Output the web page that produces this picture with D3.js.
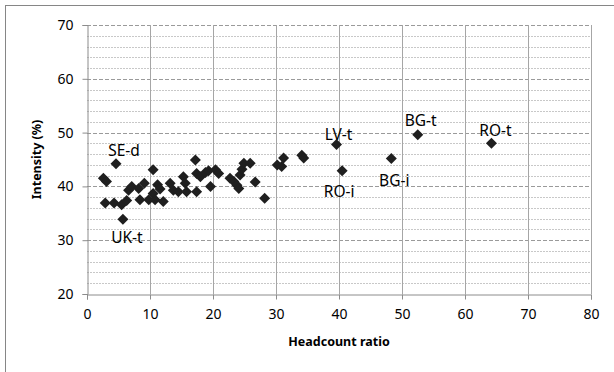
<!DOCTYPE html>
<html>
<head>
<meta charset="utf-8">
<script src="https://cdn.jsdelivr.net/npm/d3@7"></script>
<style>
  html, body { margin: 0; padding: 0; background: #fff; }
  svg { display: block; }
  text { font-family: "Noto Sans", "Open Sans", sans-serif; fill: #000; }
</style>
</head>
<body>
<script>
// Headcount ratio (x) against intensity of poverty (y), one point per region
const headcount = [2.6, 3.1, 2.9, 4.3, 4.6, 5.5, 5.7, 6.3, 6.6, 7.1, 8.2, 8.4, 9.1, 9.8,
  10.5, 10.5, 10.8, 11.2, 11.6, 12.1, 13.2, 13.7, 14.5, 15.3, 15.6, 15.8, 17.2, 17.4, 17.4,
  18.0, 18.8, 19.3, 19.6, 20.4, 20.9, 22.7, 23.3, 23.8, 24.1, 24.3, 24.6, 24.9, 25.9, 26.7,
  28.2, 30.2, 30.9, 31.2, 34.1, 34.4, 39.6, 40.5, 48.3, 52.5, 64.2];
const intensity = [41.5, 40.9, 36.9, 36.9, 44.2, 36.6, 33.9, 37.4, 39.3, 40.0, 39.6, 37.5, 40.6, 37.5,
  43.1, 38.7, 37.5, 40.3, 39.5, 37.2, 40.6, 39.3, 39.0, 41.8, 40.6, 39.0, 44.9, 42.4, 39.0,
  41.8, 42.6, 42.9, 40.0, 43.1, 42.4, 41.5, 40.9, 40.2, 39.6, 42.1, 43.2, 44.3, 44.3, 40.8,
  37.8, 44.0, 43.7, 45.3, 45.8, 45.3, 47.8, 42.9, 45.2, 49.6, 48.0];

// Named regions (index into the arrays above)
const labelNames = ["SE-d", "UK-t", "LV-t", "RO-i", "BG-i", "BG-t", "RO-t"];
const labelIndex = [4, 6, 50, 51, 52, 53, 54];

const xTicks = [0, 10, 20, 30, 40, 50, 60, 70, 80];
const yTicks = [20, 30, 40, 50, 60, 70];
const yMinor = [22, 24, 26, 28, 32, 34, 36, 38, 42, 44, 46, 48, 52, 54, 56, 58, 62, 64, 66, 68];

const W = 614, H = 372;
const margin = { left: 87, right: 23, top: 25, bottom: 78 };

const svg = d3.select("body").append("svg").attr("width", W).attr("height", H);

// chart frame
svg.append("rect")
  .attr("x", 5.5).attr("y", 5.5).attr("width", W + 10).attr("height", H + 10)
  .attr("fill", "#fff").attr("stroke", "#868686").attr("stroke-width", 1);

const x = d3.scaleLinear().domain([0, 80]).range([margin.left, W - margin.right]);
const y = d3.scaleLinear().domain([20, 70]).range([H - margin.bottom, margin.top]);

const g = svg.append("g");

// minor horizontal gridlines
g.selectAll("line.minor").data(yMinor).join("line")
  .attr("class", "minor")
  .attr("x1", x(0)).attr("x2", x(80))
  .attr("y1", d => Math.round(y(d)) + 0.5).attr("y2", d => Math.round(y(d)) + 0.5)
  .attr("stroke", "#c8c8c8").attr("stroke-width", 1).attr("stroke-dasharray", "2,1");

// major horizontal gridlines
g.selectAll("line.major").data(yTicks.filter(d => d > 20)).join("line")
  .attr("class", "major")
  .attr("x1", x(0)).attr("x2", x(80))
  .attr("y1", d => Math.round(y(d)) + 0.5).attr("y2", d => Math.round(y(d)) + 0.5)
  .attr("stroke", "#9a9a9a").attr("stroke-width", 1).attr("stroke-dasharray", "4,2");

// vertical gridlines
g.selectAll("line.vgrid").data(xTicks.filter(d => d > 0)).join("line")
  .attr("class", "vgrid")
  .attr("x1", d => Math.round(x(d)) + 0.5).attr("x2", d => Math.round(x(d)) + 0.5)
  .attr("y1", y(70)).attr("y2", y(20))
  .attr("stroke", "#a6a6a6").attr("stroke-width", 1);

// axes
const xAxis = d3.axisBottom(x).tickValues(xTicks).tickSize(5).tickPadding(10);
const yAxis = d3.axisLeft(y).tickValues(yTicks).tickSize(5).tickPadding(9);

const gx = svg.append("g")
  .attr("transform", `translate(0,${Math.round(y(20)) + 0.5})`)
  .call(xAxis);
const gy = svg.append("g")
  .attr("transform", `translate(${Math.round(x(0)) + 0.5},0)`)
  .call(yAxis);

[gx, gy].forEach(a => {
  a.select(".domain").attr("stroke", "#8c8c8c");
  a.selectAll(".tick line").attr("stroke", "#8c8c8c");
  a.selectAll(".tick text")
    .attr("font-family", "'Noto Sans', sans-serif")
    .attr("font-size", 14).attr("fill", "#1a1a1a");
});

// axis titles
svg.append("text")
  .attr("x", (x(0) + x(80)) / 2).attr("y", 346)
  .attr("text-anchor", "middle")
  .attr("font-size", 12.5).attr("font-weight", "bold")
  .text("Headcount ratio");

svg.append("text")
  .attr("transform", `translate(41,${(y(20) + y(70)) / 2}) rotate(-90)`)
  .attr("text-anchor", "middle")
  .attr("font-size", 12.5).attr("font-weight", "bold")
  .text("Intensity (%)");

// diamond markers
const r = 5.5;
const points = headcount.map((h, i) => ({ h, v: intensity[i] }));
svg.append("g").selectAll("path").data(points).join("path")
  .attr("d", d => {
    const cx = x(d.h), cy = y(d.v);
    return `M${cx},${cy - r}L${cx + r},${cy}L${cx},${cy + r}L${cx - r},${cy}Z`;
  })
  .attr("fill", "#1f1f1f");

// point labels, offset from their points
const labelOffset = {
  "SE-d": [8, -8], "UK-t": [4, 24], "LV-t": [2, -4], "RO-i": [-3, 26],
  "BG-i": [3, 28], "BG-t": [3, -9], "RO-t": [4, -7]
};
svg.append("g").selectAll("text").data(labelNames).join("text")
  .attr("x", (d, i) => x(headcount[labelIndex[i]]) + labelOffset[d][0])
  .attr("y", (d, i) => y(intensity[labelIndex[i]]) + labelOffset[d][1])
  .attr("text-anchor", "middle")
  .attr("font-size", 15.5).attr("fill", "#1a1a1a")
  .text(d => d);
</script>
</body>
</html>
